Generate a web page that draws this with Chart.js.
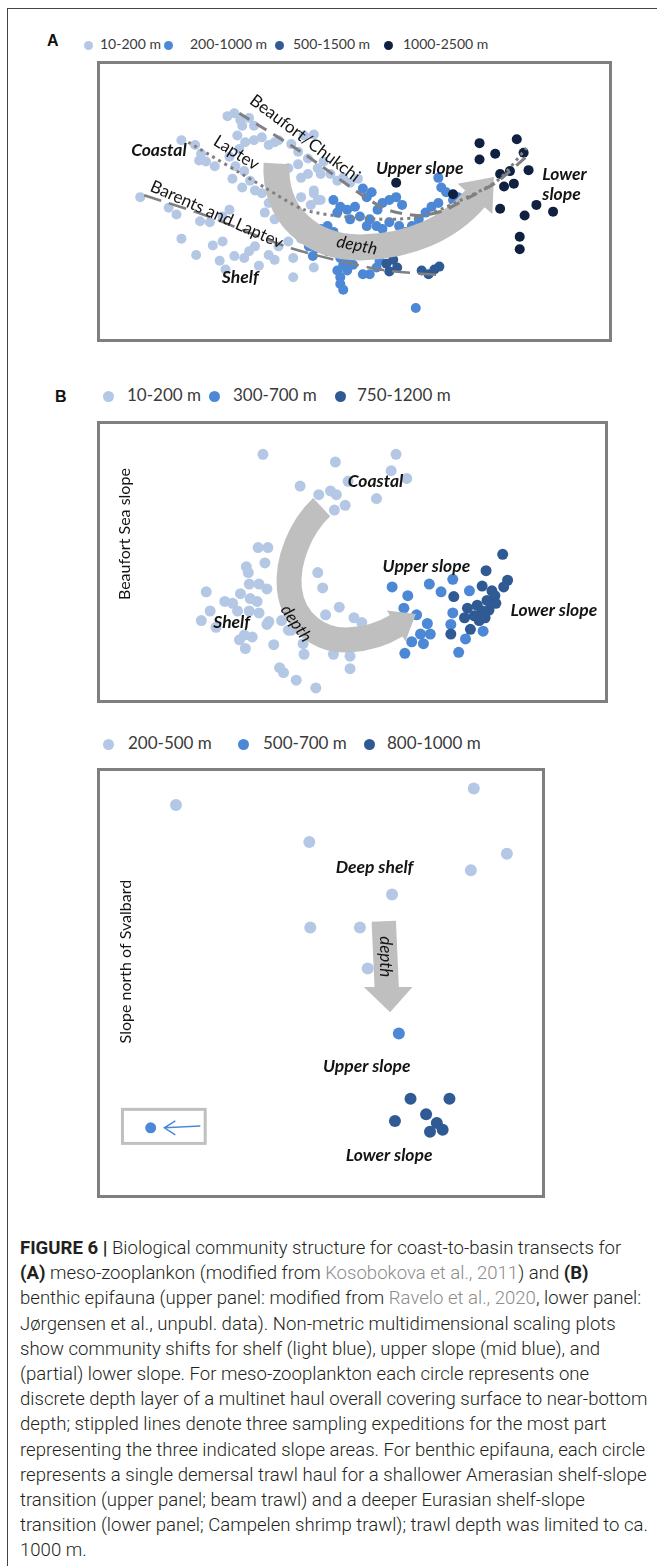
<!DOCTYPE html>
<html>
<head>
<meta charset="utf-8">
<script src="https://cdn.jsdelivr.net/npm/chart.js@4.4.1/dist/chart.umd.min.js"></script>
<style>
  body { margin: 0; background: #fff; }
  #page { position: relative; width: 657px; height: 1566px; overflow: hidden; background: #fff; }
  .frameTop { position: absolute; left: 7px; top: 8px; width: 650px; height: 1px; background: #444; }
  .frameLeft { position: absolute; left: 7px; top: 8px; width: 1px; height: 1558px; background: #444; }
  .plabel { position: absolute; font: bold 16px "Liberation Sans", Arial, sans-serif; color: #111; }
  .leg { position: absolute; font-family: Lato, sans-serif; color: #3a3a3a; white-space: nowrap; }
  .dot { position: absolute; border-radius: 50%; }
  canvas { position: absolute; }
  #caption { position: absolute; left: 20px; top: 1235px; font-family: Roboto, sans-serif; font-weight: 300;
             font-size: 18px; line-height: 25.2px; color: #231f20; transform-origin: 0 0; white-space: nowrap; }
  #caption b { font-weight: 700; }
  #caption .ref { color: #8c8c8c; }
</style>
</head>
<body>
<div id="page">
  <div class="frameTop"></div>
  <div class="frameLeft"></div>

  <div class="plabel" style="left:47px;top:32px;">A</div>
  <div class="plabel" style="left:55px;top:388px;">B</div>
  <div id="legends"></div>

  <canvas id="chartA" width="515" height="281" style="left:97px;top:61px;"></canvas>
  <canvas id="chartB" width="511" height="282" style="left:97px;top:421px;"></canvas>
  <canvas id="chartC" width="448" height="430" style="left:97px;top:768px;"></canvas>

  <div id="caption">
    <div><b>FIGURE 6 |</b> Biological community structure for coast-to-basin transects for</div>
    <div><b>(A)</b> meso-zooplankon (modified from <span class="ref">Kosobokova et al., 2011</span>) and <b>(B)</b></div>
    <div>benthic epifauna (upper panel: modified from <span class="ref">Ravelo et al., 2020</span>, lower panel:</div>
    <div>Jørgensen et al., unpubl. data). Non-metric multidimensional scaling plots</div>
    <div>show community shifts for shelf (light blue), upper slope (mid blue), and</div>
    <div>(partial) lower slope. For meso-zooplankton each circle represents one</div>
    <div id="widest">discrete depth layer of a multinet haul overall covering surface to near-bottom</div>
    <div>depth; stippled lines denote three sampling expeditions for the most part</div>
    <div>representing the three indicated slope areas. For benthic epifauna, each circle</div>
    <div>represents a single demersal trawl haul for a shallower Amerasian shelf-slope</div>
    <div>transition (upper panel; beam trawl) and a deeper Eurasian shelf-slope</div>
    <div>transition (lower panel; Campelen shrimp trawl); trawl depth was limited to ca.</div>
    <div>1000 m.</div>
  </div>
</div>

<script>
// Colours for the depth classes
const LIGHT = '#b4c8e6';
const MID = '#4c88d6';
const DARK = '#2f5a94';
const NAVY = '#0f2040';

// Panel A: meso-zooplankton NMDS (plot units)
const aLabels = ['10-200 m', '200-1000 m', '500-1500 m', '1000-2500 m'];
const aLight = [
  [136,197],[178,138],[192,143],[198,152],[203,160],[212,165],[196,159],
  [225,113],[232,110],[238,117],[247,115],[240,123],[252,123],
  [235,133],[243,140],[237,147],[252,138],[260,135],[267,143],[273,140],
  [227,155],[233,165],[230,178],[242,170],[248,180],[240,187],[253,190],[260,193],[267,203],[263,213],[273,220],
  [165,208],[173,215],[178,240],[193,257],[197,222],[207,223],[220,217],[227,210],
  [210,247],[220,243],[217,263],[223,272],[232,258],[242,260],[247,253],[253,248],[257,268],[267,257],[273,262],
  [277,248],[287,243],[292,260],[292,280],[313,270],[300,240],[305,230],[293,227],
  [287,167],[297,163],[300,177],[307,173],[313,190],[317,200],[300,197],[280,183],
  [277,138],[290,142],[303,133],[313,132],[297,150],[307,157],[317,167],[323,160],
  [330,173],[337,180],[343,177],[350,182],[358,178],[320,173],[313,193],[320,200],[310,205]
];
const aMid = [
  [308,248],[315,250],[312,258],
  [363,188],[372,192],[367,197],
  [383,203],[390,200],[397,197],[403,205],[378,210],
  [333,200],[340,207],[337,213],[347,210],[355,207],[350,220],[360,217],[370,220],[367,227],
  [377,227],[383,230],[390,223],[400,227],[407,233],[413,227],[420,220],[427,213],[433,207],[440,203],
  [440,177],[443,187],[448,192],[455,200],[460,207],[467,203],[463,213],[453,222],[460,197],
  [320,247],[327,253],[333,253],[340,260],[343,267],[347,263],[353,267],
  [337,273],[340,280],[347,273],[340,287],[343,293],
  [363,277],[370,277],[377,270],[380,263],
  [417,312],[327,227],[333,233],[320,230]
];
const aDark = [[387,266],[394,262],[390,274],[398,270],[423,273],[430,277],[436,272],[441,269]];
const aNavy = [
  [397,182],[482,141],[498,152],[482,158],[520,137],[527,151],[532,169],[503,173],[513,170],
  [507,186],[517,183],[503,209],[528,216],[540,205],[557,212],[523,238],[523,251],[455,194],[453,218]
];
// expedition tracks
const aBeaufort = [[237,110],[300,150],[383,208],[420,216],[445,211],[470,198],[500,181],[532,153]];
const aLaptev = [[185,140],[263,187],[303,210],[350,218],[390,220],[423,217],[457,203],[500,180],[530,146]];
const aBarents = [[140,195],[200,215],[290,250],[380,272],[445,278]];

// Panel B upper: Beaufort Sea slope epifauna
const bLabels = ['10-200 m', '300-700 m', '750-1200 m'];
const bLight = [
  [261,450],[335,458],[397,450],[392,467],[408,475],[299,483],[318,492],[330,488],[336,492],[348,478],[377,496],[334,508],[345,503],
  [256,547],[266,547],[263,563],[244,567],[246,573],[317,573],[322,589],
  [203,593],[198,623],[213,630],[207,613],[222,603],[230,605],[238,595],[247,585],[257,585],[265,590],[248,600],[255,603],
  [247,613],[257,615],[235,613],[265,627],[242,638],[250,640],[237,643],[243,652],[272,648],[280,623],[290,633],
  [302,647],[303,658],[278,672],[282,677],[295,685],[315,693],[325,617],[339,609],[354,620],[362,625],
  [333,658],[350,660],[350,673],[267,624],[287,633]
];
const bMid = [
  [393,588],[409,597],[431,585],[443,593],[455,580],[405,610],[418,617],[429,626],[422,637],[432,637],
  [413,645],[425,647],[406,657],[461,656],[453,627],[455,615],[468,642],[486,634],[472,592]
];
const bDark = [
  [506,554],[489,571],[511,581],[507,588],[485,587],[495,592],[456,598],[470,610],[480,607],[490,602],
  [498,597],[467,620],[477,618],[485,613],[492,612],[473,632],[453,637],[482,623],[488,620],[499,605]
];

// Panel B lower: slope north of Svalbard
const cLabels = ['200-500 m', '500-700 m', '800-1000 m'];
const cLight = [[172,800],[309,838],[478,783],[512,850],[475,867],[394,892],[310,926],[361,926],[369,968]];
const cMid = [[401,1035]];
const cDark = [[413,1102],[453,1102],[429,1118],[397,1125],[440,1127],[433,1136],[446,1134]];
const cOffscale = [[146,1132]];

const xy = arr => arr.map(p => ({ x: p[0], y: p[1] }));

function pts(data, color, r, order) {
  return { data: xy(data), backgroundColor: color, borderColor: color, borderWidth: 0, pointRadius: r, order: order };
}
function track(data, dash, width) {
  return { type: 'line', data: xy(data), borderColor: '#808080', borderWidth: width, borderDash: dash,
           pointRadius: 0, fill: false, tension: 0.25, order: 0 };
}

// annotation plugin: box, curved arrows, labels, all placed via scales
function drawArrow(chart, arrow) {
  const ctx = chart.ctx, sx = chart.scales.x, sy = chart.scales.y;
  const P = p => [sx.getPixelForValue(p[0]), sy.getPixelForValue(p[1])];
  ctx.save();
  ctx.fillStyle = '#bfbfbf';
  ctx.strokeStyle = '#bfbfbf';
  if (arrow.path) {
    ctx.lineWidth = arrow.width;
    ctx.lineCap = 'butt';
    ctx.beginPath();
    const s = P(arrow.path[0]);
    ctx.moveTo(s[0], s[1]);
    for (let i = 1; i < arrow.path.length; i += 3) {
      const c1 = P(arrow.path[i]), c2 = P(arrow.path[i + 1]), e = P(arrow.path[i + 2]);
      ctx.bezierCurveTo(c1[0], c1[1], c2[0], c2[1], e[0], e[1]);
    }
    ctx.stroke();
    // head along the last tangent
    const n = arrow.path.length;
    const e = P(arrow.path[n - 1]), c = P(arrow.path[n - 2]);
    let dx = e[0] - c[0], dy = e[1] - c[1];
    const len = Math.hypot(dx, dy); dx /= len; dy /= len;
    const hw = arrow.headW, hl = arrow.headL;
    ctx.beginPath();
    ctx.moveTo(e[0] - dx + dy * hw, e[1] - dy - dx * hw);
    ctx.lineTo(e[0] + dx * hl, e[1] + dy * hl);
    ctx.lineTo(e[0] - dx - dy * hw, e[1] - dy + dx * hw);
    ctx.closePath();
    ctx.fill();
  }
  if (arrow.poly) {
    ctx.beginPath();
    arrow.poly.forEach((p, i) => { const q = P(p); i ? ctx.lineTo(q[0], q[1]) : ctx.moveTo(q[0], q[1]); });
    ctx.closePath();
    ctx.fill();
  }
  ctx.restore();
}

const annot = {
  id: 'annot',
  beforeDraw(chart) { chart.$arrowDone = false; },
  beforeDatasetDraw(chart, args, opts) {
    if (opts.arrow && !chart.$arrowDone && chart.data.datasets[args.index].type === 'line') {
      drawArrow(chart, opts.arrow);
      chart.$arrowDone = true;
    }
  },
  afterDatasetsDraw(chart, args, opts) {
    if (opts.arrow && !chart.$arrowDone) { drawArrow(chart, opts.arrow); chart.$arrowDone = true; }
  },
  afterDraw(chart, args, opts) {
    const ctx = chart.ctx, sx = chart.scales.x, sy = chart.scales.y;
    ctx.save();
    (opts.labels || []).forEach(t => {
      ctx.save();
      ctx.translate(sx.getPixelForValue(t.x), sy.getPixelForValue(t.y));
      ctx.rotate((t.rot || 0) * Math.PI / 180);
      ctx.font = t.font;
      ctx.fillStyle = t.color || '#141414';
      ctx.textAlign = t.align || 'center';
      ctx.textBaseline = 'middle';
      ctx.fillText(t.text, 0, 0);
      ctx.restore();
    });
    if (opts.inset) {
      const r = opts.inset;
      const x0 = sx.getPixelForValue(r.x0), x1 = sx.getPixelForValue(r.x1);
      const y0 = sy.getPixelForValue(r.y0), y1 = sy.getPixelForValue(r.y1);
      ctx.strokeStyle = '#c0c0c0'; ctx.lineWidth = 3;
      ctx.strokeRect(x0, y0, x1 - x0, y1 - y0);
      const ax0 = sx.getPixelForValue(r.from[0]), ay0 = sy.getPixelForValue(r.from[1]);
      const ax1 = sx.getPixelForValue(r.to[0]), ay1 = sy.getPixelForValue(r.to[1]);
      ctx.strokeStyle = MID; ctx.lineWidth = 1.5;
      ctx.beginPath();
      ctx.moveTo(ax0, ay0); ctx.lineTo(ax1, ay1);
      ctx.moveTo(ax1 + 11, ay1 - 7); ctx.lineTo(ax1, ay1); ctx.lineTo(ax1 + 11, ay1 + 7);
      ctx.stroke();
    }
    // panel frame
    ctx.strokeStyle = '#7f7f7f';
    ctx.lineWidth = 3;
    ctx.strokeRect(1.5, 1.5, chart.width - 3, chart.height - 3);
    ctx.restore();
  }
};

function makePanel(id, box, datasets, extra) {
  return new Chart(document.getElementById(id), {
    type: 'scatter',
    data: { datasets: datasets },
    options: {
      responsive: false,
      animation: false,
      events: [],
      layout: { padding: 0 },
      plugins: { legend: { display: false }, tooltip: { enabled: false }, annot: extra },
      scales: {
        x: { display: false, min: box[0], max: box[2] },
        y: { display: false, min: box[1], max: box[3], reverse: true }
      }
    },
    plugins: [annot]
  });
}

const BI = 'italic bold 17.5px Lato, sans-serif';
const R = '17px Lato, sans-serif';
const IT = 'italic 17px Lato, sans-serif';

makePanel('chartA', [97, 61, 612, 342], [
  track(aBeaufort, [12, 8], 3),
  track(aLaptev, [3, 4], 3),
  track(aBarents, [18, 8], 2.5),
  pts(aNavy, NAVY, 5, 1),
  pts(aDark, DARK, 5, 2),
  pts(aMid, MID, 5, 3),
  pts(aLight, LIGHT, 5, 4)
], {
  arrow: { path: [[275,162],[272,215],[310,251],[365,249],[410,247],[450,231],[478,198]], width: 26, headW: 23, headL: 28 },
  labels: [
    { text: 'Coastal', x: 155, y: 148, font: BI },
    { text: 'Laptev', x: 234, y: 151, rot: 32, font: R },
    { text: 'Beaufort/Chukchi', x: 304, y: 136, rot: 37, font: R },
    { text: 'Barents and Laptev', x: 214, y: 215, rot: 24, font: R },
    { text: 'Upper slope', x: 421, y: 167, font: BI },
    { text: 'Lower', x: 546, y: 173, align: 'left', font: BI },
    { text: 'slope', x: 546, y: 194, align: 'left', font: BI },
    { text: 'depth', x: 357, y: 247, rot: 11, font: IT },
    { text: 'Shelf', x: 238, y: 280, font: BI }
  ]
});

makePanel('chartB', [97, 421, 608, 703], [
  pts(bDark, DARK, 5.5, 1),
  pts(bMid, MID, 5.5, 2),
  pts(bLight, LIGHT, 5.5, 3)
], {
  arrow: { path: [[321,505],[300,525],[285,560],[288,590],[292,625],[320,645],[350,643],[370,642],[385,636],[398,628]],
           width: 25, headW: 18, headL: 22 },
  labels: [
    { text: 'Beaufort Sea slope', x: 120, y: 533, rot: -90, font: '16px Lato, sans-serif' },
    { text: 'Coastal', x: 376, y: 478, font: BI },
    { text: 'Upper slope', x: 428, y: 567, font: BI },
    { text: 'Lower slope', x: 514, y: 612, align: 'left', font: BI },
    { text: 'Shelf', x: 229, y: 625, font: BI },
    { text: 'depth', x: 295, y: 626, rot: 55, font: IT }
  ]
});

makePanel('chartC', [97, 768, 545, 1198], [
  pts(cDark, DARK, 6, 1),
  pts(cMid, MID, 6, 2),
  pts(cLight, LIGHT, 6, 3),
  pts(cOffscale, MID, 5.5, 2)
], {
  arrow: { poly: [[373,920],[398,919],[401,987],[415,987],[392,1013],[365,987],[376,987]] },
  inset: { x0: 117, y0: 1113, x1: 202, y1: 1148, from: [197,1130], to: [160,1132] },
  labels: [
    { text: 'Slope north of Svalbard', x: 120, y: 961, rot: -90, font: '16px Lato, sans-serif' },
    { text: 'Deep shelf', x: 376, y: 864, font: BI },
    { text: 'depth', x: 387, y: 956, rot: 90, font: IT },
    { text: 'Upper slope', x: 368, y: 1069, font: BI },
    { text: 'Lower slope', x: 391, y: 1160, font: BI }
  ]
});

// legends above each panel
const legendRows = [
  { y: 45, size: 14, r: 4.5, labels: aLabels, colors: [LIGHT, MID, DARK, NAVY], dots: [88, 168, 279, 388], texts: [100, 190, 293, 403] },
  { y: 396, size: 17, r: 5.5, labels: bLabels, colors: [LIGHT, MID, DARK], dots: [108, 214, 340], texts: [127, 233, 357] },
  { y: 744, size: 17, r: 5.5, labels: cLabels, colors: [LIGHT, MID, DARK], dots: [108, 243, 369], texts: [128, 263, 387] }
];
const legendBox = document.getElementById('legends');
legendRows.forEach(row => {
  row.labels.forEach((lab, i) => {
    const d = document.createElement('div');
    d.className = 'dot';
    d.style.cssText = `left:${row.dots[i] - row.r}px;top:${row.y - row.r}px;width:${2 * row.r}px;height:${2 * row.r}px;background:${row.colors[i]};`;
    legendBox.appendChild(d);
    const t = document.createElement('div');
    t.className = 'leg';
    t.textContent = lab;
    t.style.cssText = `left:${row.texts[i]}px;top:${row.y - row.size * 0.62}px;font-size:${row.size}px;line-height:${row.size * 1.2}px;`;
    legendBox.appendChild(t);
  });
});

// squeeze caption so the widest line fits the column
const cap = document.getElementById('caption');
const w = document.getElementById('widest').getBoundingClientRect().width;
cap.style.transform = `scaleX(${(628 / w).toFixed(4)})`;
</script>
</body>
</html>
